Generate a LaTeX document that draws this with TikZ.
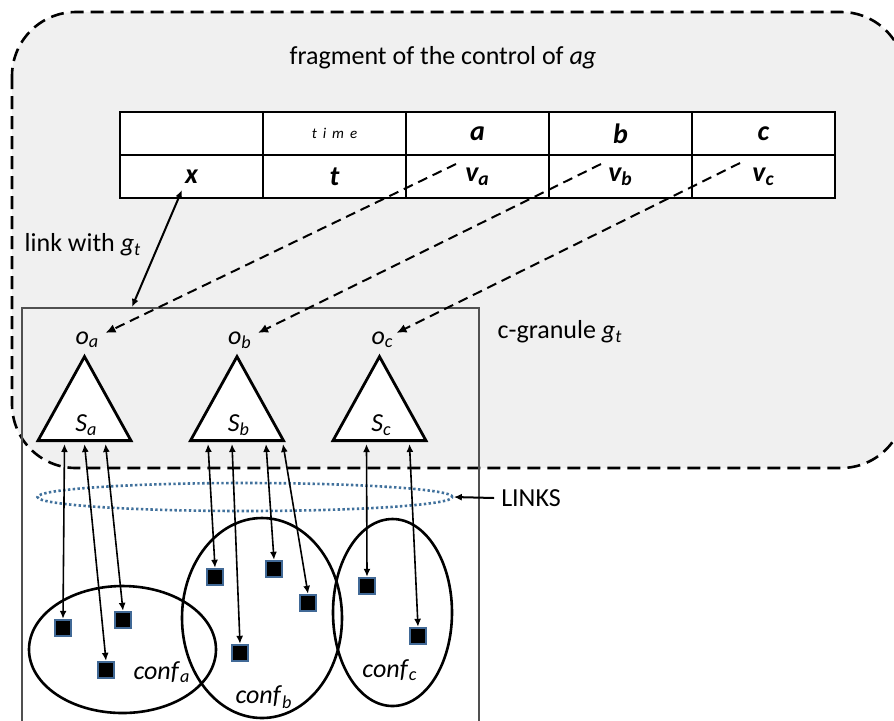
\documentclass[tikz,border=0pt]{standalone}
\usepackage{fontspec}
\setmainfont{Carlito}
\usetikzlibrary{shapes.geometric, arrows.meta, positioning, calc}
\definecolor{ctrlgray}{RGB}{240,240,240}
\definecolor{granedge}{RGB}{80,80,80}
\definecolor{linkblue}{RGB}{65,113,156}
\definecolor{sqblue}{RGB}{65,105,150}
\newcommand{\itsub}[2]{\textit{#1}\textsubscript{\textit{#2}}}
\newcommand{\bisub}[2]{\textbf{\textit{#1}}\textsubscript{\textbf{\textit{#2}}}}

\begin{document}
\begin{tikzpicture}[x=0.5pt, y=-0.5pt,
  font=\fontsize{13}{15}\selectfont,
  cell/.style={draw, fill=white, line width=0.8pt, minimum width=71.5pt, minimum height=21.5pt, inner sep=0pt, outer sep=0pt, font=\fontsize{14}{16}\selectfont\bfseries\itshape},
  tri/.style={draw, fill=white, line width=1.4pt, isosceles triangle, shape border rotate=90, isosceles triangle stretches, minimum width=46.5pt, minimum height=42pt, inner sep=0pt, anchor=south},
  sq/.style={draw=sqblue, fill=black, line width=1.2pt, minimum size=8pt, inner sep=0pt},
  conf/.style={draw, ellipse, line width=1.3pt, inner sep=0pt},
  lnk/.style={{Latex[length=4pt,width=3.5pt]}-{Latex[length=4pt,width=3.5pt]}, line width=0.8pt},
  obs/.style={-{Latex[length=5pt,width=4.5pt]}, line width=1pt, dash pattern=on 5pt off 3pt}
]
  \useasboundingbox (0,0) rectangle (894,720);
  \draw[fill=ctrlgray, line width=1.3pt, dash pattern=on 6.5pt off 3.5pt, rounded corners=32pt] (12,12) rectangle (905,468);
  \node[draw=granedge, line width=1.1pt, minimum width=228.5pt, minimum height=209pt, inner sep=0pt, anchor=north west] (gran) at (21,307) {};

  \node (title) at (443,58) {fragment of the control of \textit{ag}};
  \node[cell, anchor=north west] (blank) at (120,112) {};
  \node[cell, right=0pt of blank] (timehd) {\raisebox{-2pt}{\fontsize{7.5}{8}\selectfont\mdseries\addfontfeature{LetterSpace=40, Ligatures=NoCommon}time}};
  \node[cell, right=0pt of timehd] (ahd) {a};
  \node[cell, right=0pt of ahd] (bhd) {b};
  \node[cell, right=0pt of bhd] (chd) {c};
  \node[cell, below=0pt of blank] (xcell) {x};
  \node[cell, right=0pt of xcell] (tcell) {t};
  \node[cell, right=0pt of tcell] (va) {\bisub{v}{a}};
  \node[cell, right=0pt of va] (vb) {\bisub{v}{b}};
  \node[cell, right=0pt of vb] (vc) {\bisub{v}{c}};

  \node (linklbl) at (83,245) {link with \itsub{g}{t}};
  \node (granlbl) at (560,332) {c-granule \itsub{g}{t}};
  \draw[lnk, line width=1pt] ($(gran.north west)+(111,0)$) -- ($(xcell.south)+(-9.5,-8)$);

  \node[tri] (Sa) at (84.5,442) {};
  \node[tri] (Sb) at (237,442) {};
  \node[tri] (Sc) at (379.5,442) {};
  \node (Salbl) at ($(Sa.south)+(2,-17)$) {\itsub{S}{a}};
  \node (Sblbl) at ($(Sb.south)+(2,-17)$) {\itsub{S}{b}};
  \node (Sclbl) at ($(Sc.south)+(2,-17)$) {\itsub{S}{c}};
  \node (oa) at ($(Sa.apex)+(3,-13)$) {\itsub{o}{a}};
  \node (ob) at ($(Sb.apex)+(3,-13)$) {\itsub{o}{b}};
  \node (oc) at ($(Sc.apex)+(3,-13)$) {\itsub{o}{c}};

  \draw[obs] ($(va.north west)+(50,9)$) -- ($(Sa.apex)+(21,-20)$);
  \draw[obs] ($(vb.north west)+(52,9)$) -- ($(Sb.apex)+(21,-20)$);
  \draw[obs] ($(vc.north west)+(48,8)$) -- ($(Sc.apex)+(17,-20)$);

  \node[draw=linkblue, ellipse, line width=1.3pt, dash pattern=on 1.2pt off 1.2pt, minimum width=207.5pt, minimum height=14pt, inner sep=0pt] (links) at (245,497) {};
  \node (linkstxt) at (531,498) {LINKS};
  \draw[-{Latex[length=4pt,width=3.5pt]}, line width=1pt] (linkstxt.west) -- (links.east);

  \node[conf, minimum width=93.5pt, minimum height=63.5pt] (confa) at (122.5,649.5) {};
  \node[conf, minimum width=80pt, minimum height=100pt] (confb) at (262,618) {};
  \node[conf, minimum width=59.5pt, minimum height=93.5pt] (confc) at (392.5,612.5) {};
  \node (confalbl) at (162,672) {\itsub{conf}{a}};
  \node (confblbl) at (264,697) {\itsub{conf}{b}};
  \node (confclbl) at (390,670) {\itsub{conf}{c}};

  \node[sq] (a1) at (63,628) {};
  \node[sq] (a2) at (123,620) {};
  \node[sq] (a3) at (106,670) {};
  \node[sq] (b1) at (215,577) {};
  \node[sq] (b2) at (274,569) {};
  \node[sq] (b3) at (308,603) {};
  \node[sq] (b4) at (240,653) {};
  \node[sq] (c1) at (367,586) {};
  \node[sq] (c2) at (418,636) {};

  \draw[lnk] ($(Sa.south)+(-20,2)$) -- (a1.north);
  \draw[lnk] ($(Sa.south)+(0,2)$) -- (a3.north);
  \draw[lnk] ($(Sa.south)+(21,2)$) -- (a2.north);
  \draw[lnk] ($(Sb.south)+(-29,2)$) -- (b1.north);
  \draw[lnk] ($(Sb.south)+(-5,2)$) -- (b4.north);
  \draw[lnk] ($(Sb.south)+(29,2)$) -- (b2.north);
  \draw[lnk] ($(Sb.south)+(46,2)$) -- (b3.north);
  \draw[lnk] ($(Sc.south)+(-13,2)$) -- (c1.north);
  \draw[lnk] ($(Sc.south)+(30,2)$) -- (c2.north);
\end{tikzpicture}
\end{document}
